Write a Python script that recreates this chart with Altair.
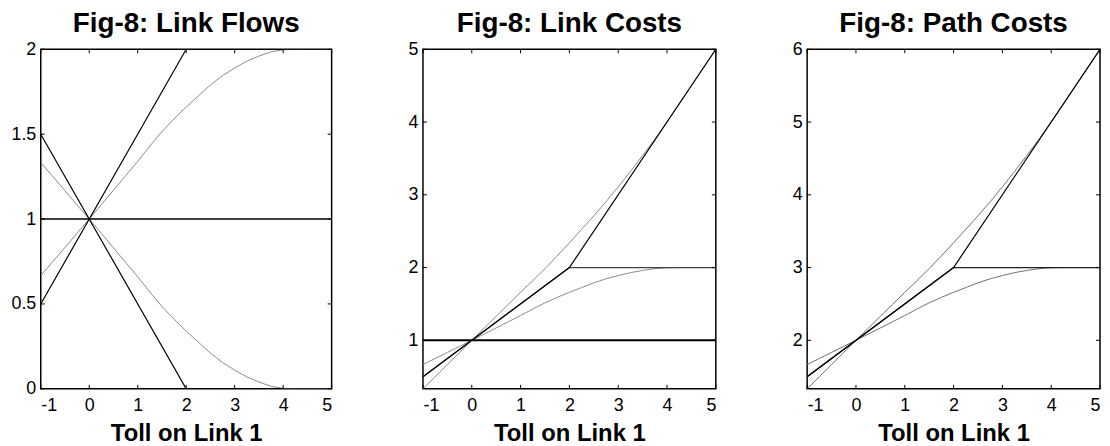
import altair as alt
import pandas as pd

# ---------------- data ----------------
toll = [-1, -0.75, -0.5, -0.25, 0, 0.25, 0.5, 0.75, 1, 1.25, 1.5, 1.75, 2,
        2.25, 2.5, 2.75, 3, 3.25, 3.5, 3.75, 4, 4.25, 4.5, 4.75, 5]

# Panel 1: link flows
flow_gray_up = [0.667, 0.75, 0.833, 0.917, 1.0, 1.085, 1.17, 1.255, 1.34, 1.43, 1.515, 1.59, 1.66,
                1.725, 1.79, 1.845, 1.89, 1.93, 1.96, 1.985, 1.997, 2.0, 2.0, 2.0, 2.0]
flow_gray_down = [1.333, 1.25, 1.167, 1.083, 1.0, 0.915, 0.83, 0.745, 0.66, 0.57, 0.485, 0.41, 0.34,
                  0.275, 0.21, 0.155, 0.11, 0.07, 0.04, 0.015, 0.003, 0.0, 0.0, 0.0, 0.0]
kink_x = [-1, 2, 5]
flow_black_down = [1.5, 0.0, 0.0]
flow_black_up = [0.5, 2.0, 2.0]
flat_x = [-1, 5]
flow_const = [1.0, 1.0]

# Panel 2: link costs
cost_gray_upper = [0.333, 0.5, 0.667, 0.833, 1.0, 1.165, 1.33, 1.495, 1.66, 1.82, 1.985, 2.16, 2.34,
                   2.525, 2.71, 2.905, 3.11, 3.32, 3.54, 3.765, 4.003, 4.25, 4.5, 4.75, 5.0]
cost_gray_lower = [0.667, 0.75, 0.833, 0.917, 1.0, 1.085, 1.17, 1.255, 1.34, 1.43, 1.515, 1.59, 1.66,
                   1.725, 1.79, 1.845, 1.89, 1.93, 1.96, 1.985, 1.997, 2.0, 2.0, 2.0, 2.0]
cost_black_link1 = [0.5, 2.0, 5.0]
cost_black_link2 = [0.5, 2.0, 2.0]
cost_const = [1.0, 1.0]

# Panel 3: path costs
path_gray_upper = [1.333, 1.5, 1.667, 1.833, 2.0, 2.165, 2.33, 2.495, 2.66, 2.82, 2.985, 3.16, 3.34,
                   3.525, 3.71, 3.905, 4.11, 4.32, 4.54, 4.765, 5.003, 5.25, 5.5, 5.75, 6.0]
path_gray_lower = [1.667, 1.75, 1.833, 1.917, 2.0, 2.085, 2.17, 2.255, 2.34, 2.43, 2.515, 2.59, 2.66,
                   2.725, 2.79, 2.845, 2.89, 2.93, 2.96, 2.985, 2.997, 3.0, 3.0, 3.0, 3.0]
path_black_1 = [1.5, 3.0, 6.0]
path_black_2 = [1.5, 3.0, 3.0]

x_ticks = [-1, 0, 1, 2, 3, 4, 5]
y_ticks_1 = [0, 0.5, 1, 1.5, 2]
y_ticks_2 = [1, 2, 3, 4, 5]
y_ticks_3 = [2, 3, 4, 5, 6]

titles = ["Fig-8: Link Flows", "Fig-8: Link Costs", "Fig-8: Path Costs"]
x_title = "Toll on Link 1"

# ---------------- layout / style ----------------
H = 342
FONT = "Liberation Sans"
TICK = 4
LABEL_EXPR = "'' + datum.value"


def line(xs, ys, color, width):
    df = pd.DataFrame({"x": xs, "y": ys})
    return df, color, width


def panel(title, series, y_domain, y_ticks, W):
    xs = alt.Scale(domain=[-1, 5], nice=False, zero=False)
    ys = alt.Scale(domain=y_domain, nice=False, zero=False)
    x_axis = alt.Axis(values=x_ticks, labelExpr=LABEL_EXPR, title=x_title, grid=False,
                      ticks=False, tickSize=0, domain=False, labelPadding=8,
                      labelFontSize=18, labelFont=FONT, labelColor="black",
                      titleFont=FONT, titleFontSize=24, titleFontWeight="bold",
                      titleColor="black", titlePadding=7)
    y_axis = alt.Axis(values=y_ticks, labelExpr=LABEL_EXPR, title=None, grid=False,
                      ticks=False, tickSize=0, domain=False, labelPadding=5,
                      labelFontSize=18, labelFont=FONT, labelColor="black")
    layers = []
    for df, color, width in series:
        layers.append(alt.Chart(df).mark_line(color=color, strokeWidth=width, clip=True).encode(
            x=alt.X("x:Q", scale=xs, axis=x_axis),
            y=alt.Y("y:Q", scale=ys, axis=y_axis),
        ))

    xt = pd.DataFrame({"x": x_ticks})
    yt = pd.DataFrame({"y": y_ticks})
    tick_style = dict(color="black", strokeWidth=1)
    layers.append(alt.Chart(xt).mark_rule(**tick_style).encode(
        x=alt.X("x:Q", scale=xs, axis=x_axis), y=alt.value(H), y2=alt.value(H - TICK)))
    layers.append(alt.Chart(xt).mark_rule(**tick_style).encode(
        x=alt.X("x:Q", scale=xs, axis=x_axis), y=alt.value(0), y2=alt.value(TICK)))
    layers.append(alt.Chart(yt).mark_rule(**tick_style).encode(
        y=alt.Y("y:Q", scale=ys, axis=y_axis), x=alt.value(0), x2=alt.value(TICK)))
    layers.append(alt.Chart(yt).mark_rule(**tick_style).encode(
        y=alt.Y("y:Q", scale=ys, axis=y_axis), x=alt.value(W), x2=alt.value(W - TICK)))

    return alt.layer(*layers).properties(
        width=W, height=H,
        title=alt.TitleParams(title, font=FONT, fontSize=28, fontWeight="bold",
                              color="black", anchor="middle", offset=2),
    )


G1 = "#8a8a8a"
G3 = "#707070"

p1 = panel(titles[0], [
    line(toll, flow_gray_up, G1, 1),
    line(toll, flow_gray_down, G1, 1),
    line(flat_x, flow_const, "black", 1.5),
    line(kink_x, flow_black_up, "black", 1.2),
    line(kink_x, flow_black_down, "black", 1.2),
], [0, 2], y_ticks_1, 293)

p2 = panel(titles[1], [
    line(toll, cost_gray_upper, G1, 1),
    line(toll, cost_gray_lower, G1, 1),
    line(flat_x, cost_const, "black", 2),
    line(kink_x, cost_black_link2, "#444444", 1.2),
    line(kink_x, cost_black_link1, "black", 1.2),
], [0.333, 5], y_ticks_2, 295)

p3 = panel(titles[2], [
    line(toll, path_gray_upper, G3, 1),
    line(toll, path_gray_lower, G3, 1),
    line(kink_x, path_black_2, "#222222", 1.2),
    line(kink_x, path_black_1, "black", 1.2),
], [1.333, 6], y_ticks_3, 295)

chart = alt.hconcat(p1, p2, p3, spacing=92, bounds="flush").properties(
    padding={"left": 2, "top": 0, "right": 0, "bottom": 0},
    background="white",
).configure_view(stroke="black", strokeWidth=1.5)

chart.save("out.html", embed_options={"renderer": "svg", "actions": False})
